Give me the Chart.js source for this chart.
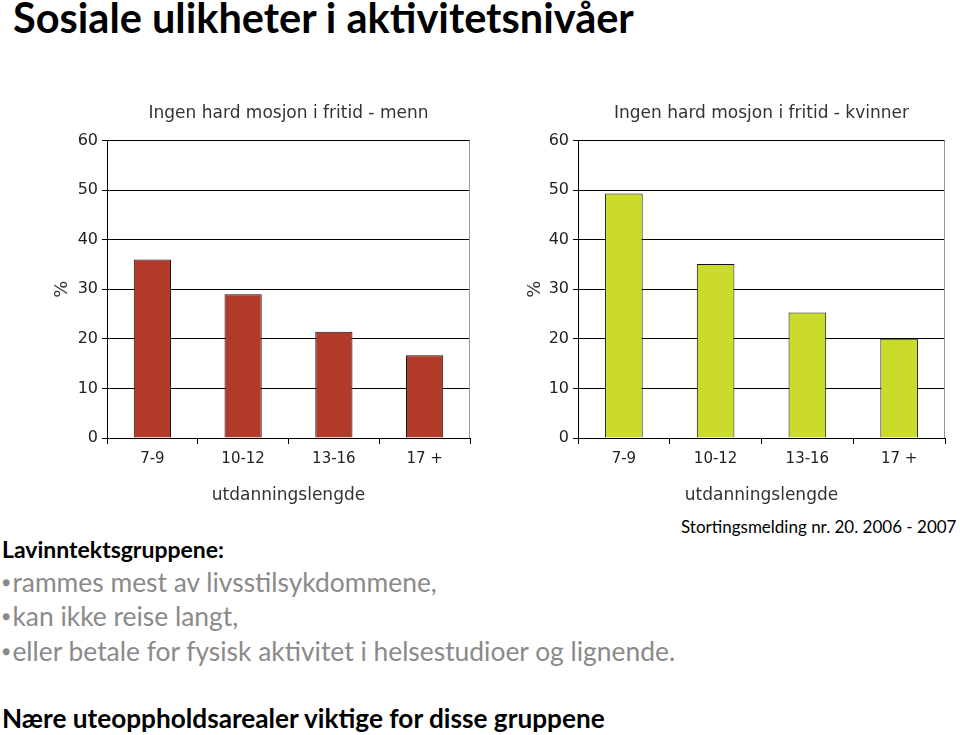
<!DOCTYPE html>
<html lang="no">
  <head>
  <meta charset="utf-8">
  <title>Sosiale ulikheter i aktivitetsnivåer</title>
  <script src="https://cdn.jsdelivr.net/npm/chart.js@4.4.1/dist/chart.umd.min.js"></script>
  <style>
    body{
      margin: 0;
      width: 960px;
      height: 735px;
      background: #fff;
      position: relative;
      overflow: hidden;
      font-family: Lato, "Open Sans", sans-serif;
    }
    .txt{
      position: absolute;
      white-space: nowrap;
      line-height: 1;
    }
    #main_title{ left: 13px; top: -3px; font-size: 41.5px; font-weight: bold; color: #000; }
    #source{ left: 681px; top: 518px; font-size: 17px; color: #000; }
    #group_title{ left: 2px; top: 538px; font-size: 23px; font-weight: bold; color: #000; }
    .bullet{ left: 2px; font-size: 26.4px; color: #8a8a8a; }
    .bullet .dot{ font-size: 14px; vertical-align: 5px; margin-right: 2px; }
    #b1{ top: 569px; }
    #b2{ top: 603px; }
    #b3{ top: 638px; }
    #bottom_line{ left: 2px; top: 705px; font-size: 26.2px; font-weight: bold; color: #000; }
    .chart_box{ position: absolute; top: 95px; width: 440px; height: 415px; }
    #box_menn{ left: 40px; }
    #box_kvinner{ left: 515px; }
  </style>
  </head>
  <body>
    <div class="txt" id="main_title">Sosiale ulikheter i aktivitetsnivåer</div>
    <div class="chart_box" id="box_menn"><canvas id="chart_menn"></canvas></div>
    <div class="chart_box" id="box_kvinner"><canvas id="chart_kvinner"></canvas></div>
    <div class="txt" id="source">Stortingsmelding nr. 20. 2006 - 2007</div>
    <div class="txt" id="group_title">Lavinntektsgruppene:</div>
    <div class="txt bullet" id="b1"><span class="dot">●</span>rammes mest av livsstilsykdommene,</div>
    <div class="txt bullet" id="b2"><span class="dot">●</span>kan ikke reise langt,</div>
    <div class="txt bullet" id="b3"><span class="dot">●</span>eller betale for fysisk aktivitet i helsestudioer og lignende.</div>
    <div class="txt" id="bottom_line">Nære uteoppholdsarealer viktige for disse gruppene</div>
  </body>
  <script>
    // data
    const categories = ["7-9", "10-12", "13-16", "17 +"];
    const menValues = [36, 29, 21.4, 16.7];
    const womenValues = [49.3, 35.1, 25.3, 20];
    const yMin = 0;
    const yMax = 60;
    const yStep = 10;
    const xTitle = "utdanningslengde";
    const yTitle = "%";
    const titleMenn = "Ingen hard mosjon i fritid - menn";
    const titleKvinner = "Ingen hard mosjon i fritid - kvinner";

    Chart.defaults.font.family = '"DejaVu Sans", "Liberation Sans", Arial, sans-serif';
    Chart.defaults.color = "#222";

    // grå ramme til høyre for plottet
    const framePlugin = {
      id: "frame",
      afterDraw(chart){
        const a = chart.chartArea;
        const ctx = chart.ctx;
        ctx.save();
        ctx.strokeStyle = "#9a9a9a";
        ctx.lineWidth = 1;
        ctx.beginPath();
        ctx.moveTo(Math.round(a.right) - 0.5, a.top);
        ctx.lineTo(Math.round(a.right) - 0.5, a.bottom);
        ctx.stroke();
        ctx.restore();
      }
    };

    const makeChart = (id, title, values, color, yWidth, pctPad) => {
      return new Chart(document.getElementById(id), {
        type: "bar",
        data: {
          labels: categories,
          datasets: [{
            data: values,
            backgroundColor: color,
            borderColor: "#111",
            borderWidth: 1,
            barPercentage: 0.41,
            categoryPercentage: 1
          }]
        },
        options: {
          responsive: true,
          maintainAspectRatio: false,
          animation: false,
          layout: { padding: { right: 10, left: 0 } },
          plugins: {
            legend: { display: false },
            tooltip: { enabled: false },
            title: {
              display: true,
              text: title,
              fullSize: false,
              color: "#333",
              font: { size: 17, weight: "normal" },
              padding: { top: 8, bottom: 17 }
            }
          },
          scales: {
            x: {
              grid: { drawOnChartArea: false, color: "#000", tickLength: 6, offset: true },
              border: { color: "#000" },
              ticks: { font: { size: 15 }, color: "#222", padding: 6 },
              title: { display: true, text: xTitle, font: { size: 17 }, color: "#333", padding: { top: 7 } },
              afterFit(scale){ scale.height = 72; }
            },
            y: {
              min: yMin,
              max: yMax,
              grid: { color: "#000", tickLength: 5 },
              border: { color: "#000" },
              ticks: { stepSize: yStep, font: { size: 16 }, color: "#222", padding: 4 },
              title: { display: true, text: yTitle, font: { size: 18 }, color: "#333", padding: { top: pctPad, bottom: 0 } },
              afterFit(scale){ scale.width = yWidth; }
            }
          }
        },
        plugins: [framePlugin]
      });
    };

    makeChart("chart_menn", titleMenn, menValues, "#b23a28", 67, 12);
    makeChart("chart_kvinner", titleKvinner, womenValues, "#cadb2b", 63, 10);
  </script>
</html>
